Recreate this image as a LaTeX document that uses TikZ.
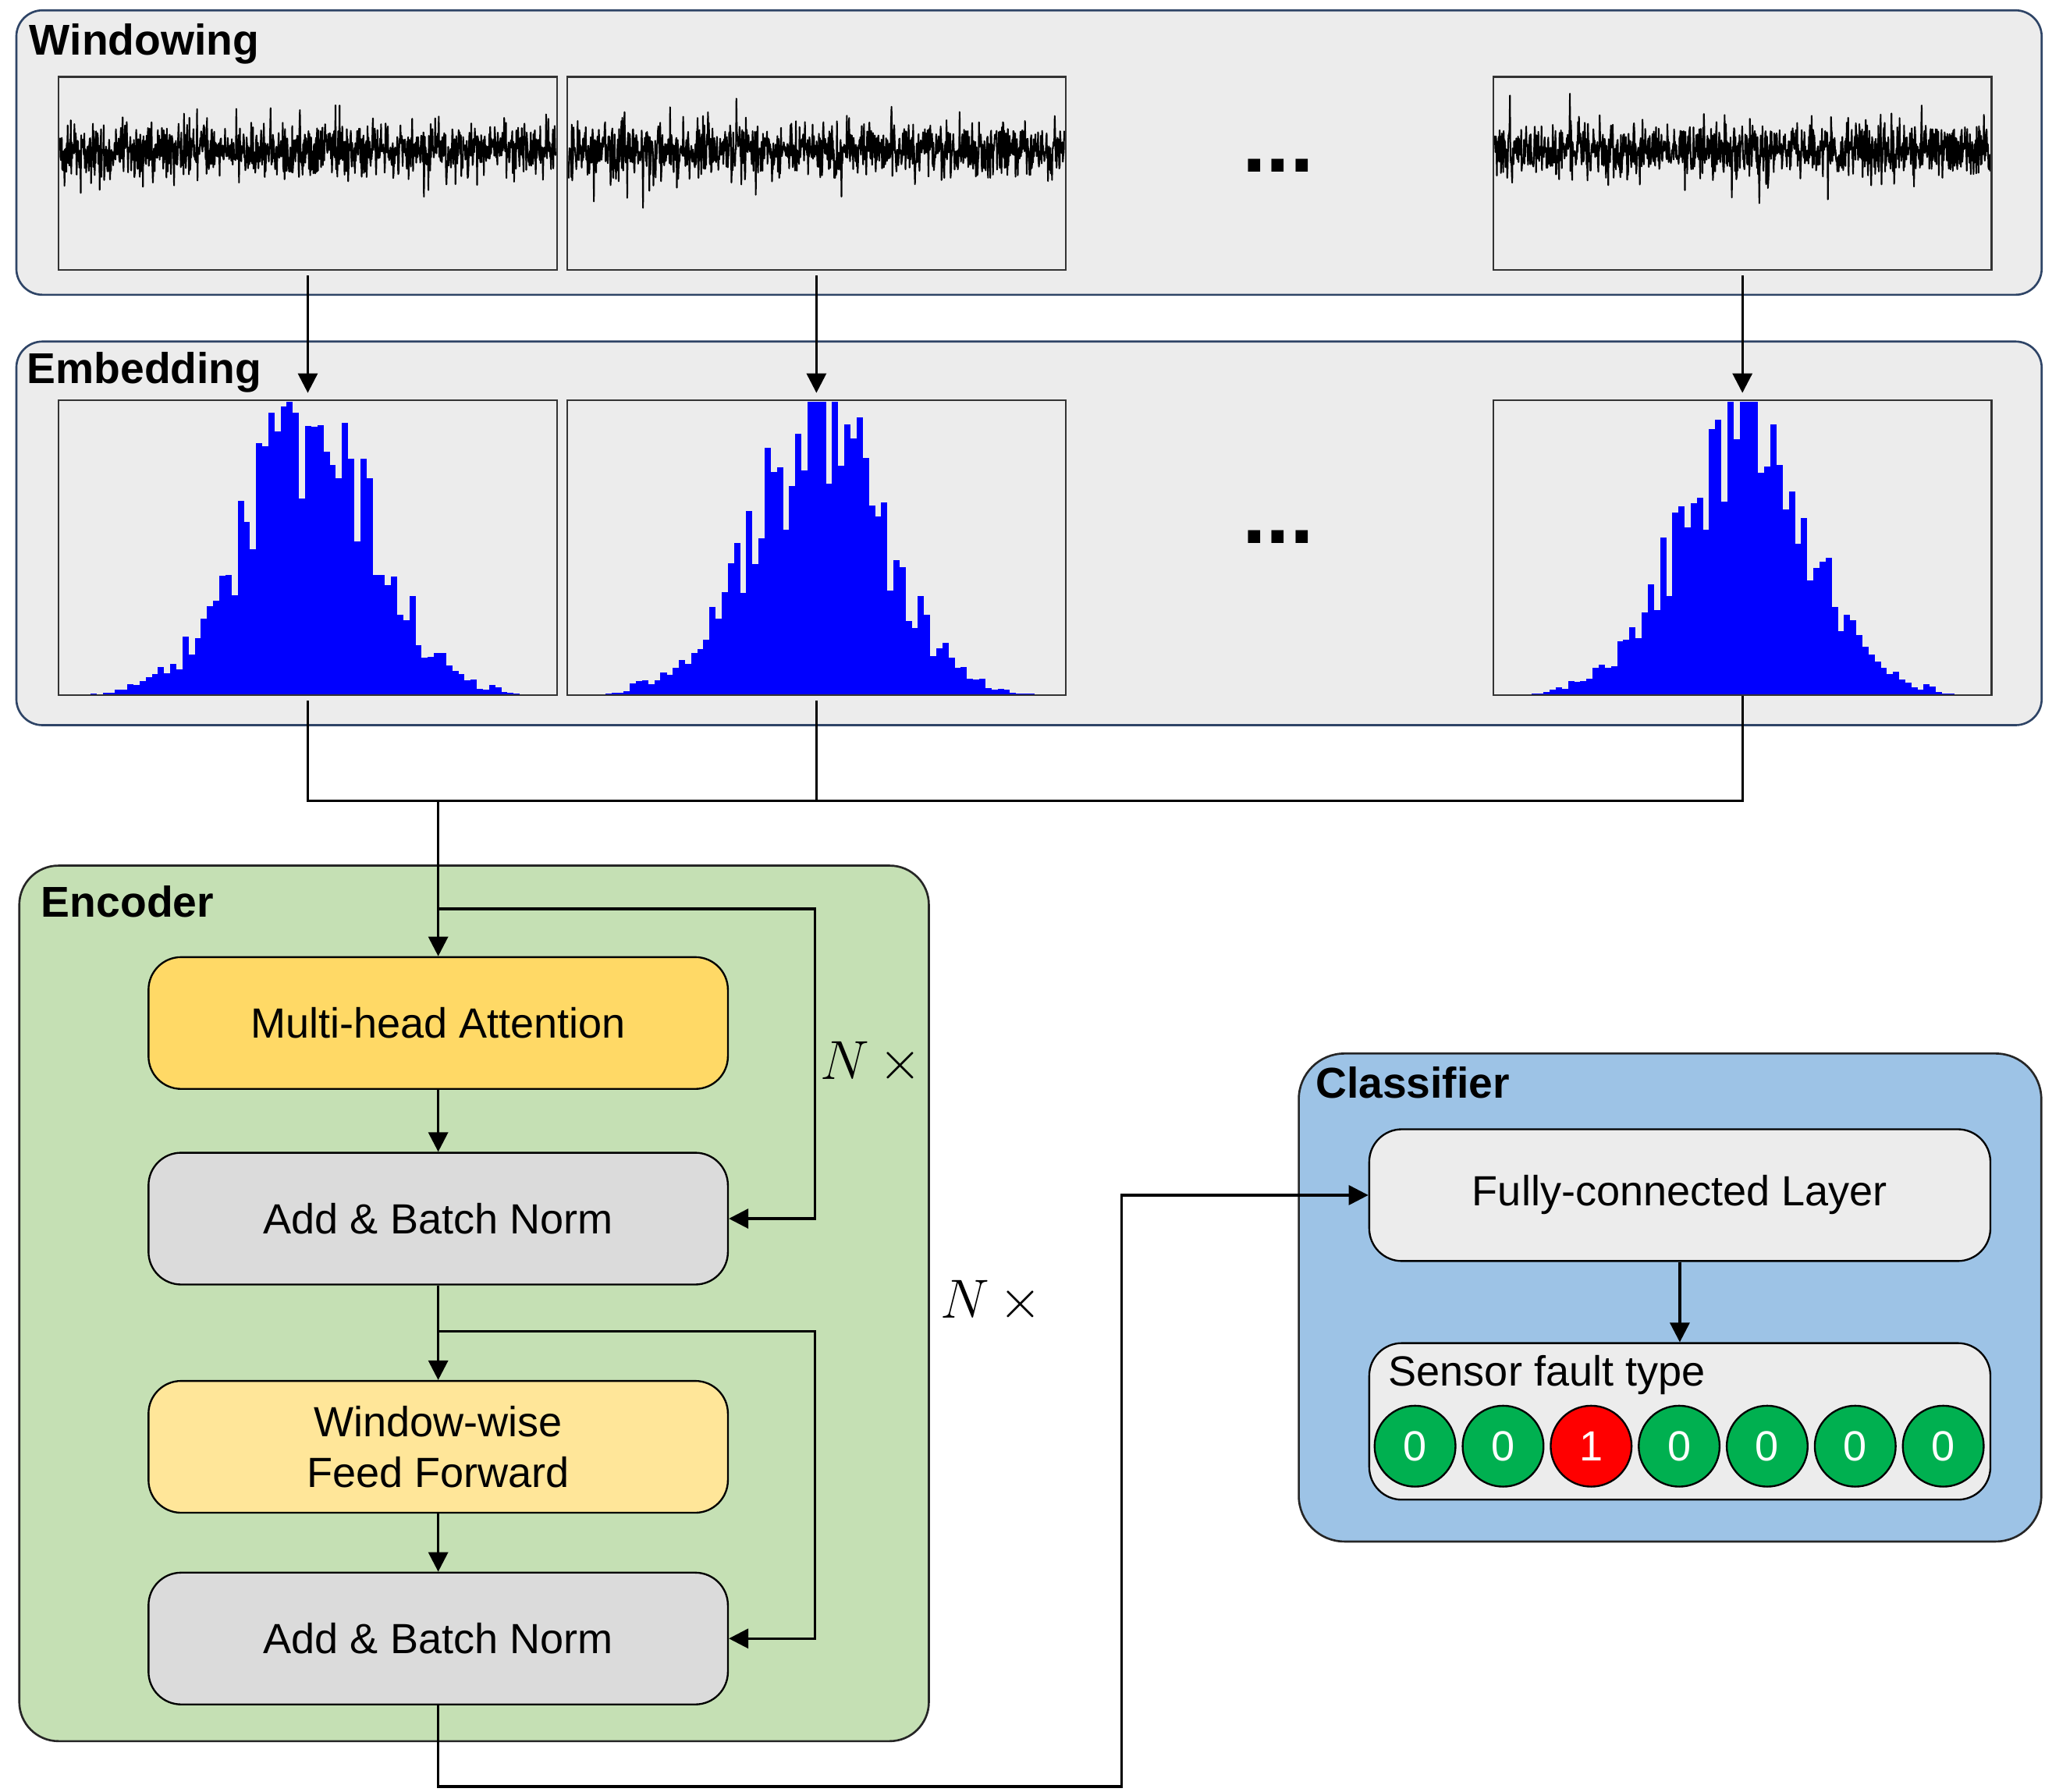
\documentclass[tikz,border=0pt]{standalone}
\usepackage{fontspec}
\setmainfont{Liberation Sans}
\usetikzlibrary{arrows.meta,positioning}

\definecolor{panelgray}{HTML}{ECECEC}
\definecolor{panelline}{HTML}{2E4466}
\definecolor{encgreen}{HTML}{C5E0B4}
\definecolor{clsblue}{HTML}{9DC3E6}
\definecolor{mhacol}{HTML}{FFD966}
\definecolor{ffcol}{HTML}{FFE699}
\definecolor{normgray}{HTML}{DBDBDB}
\definecolor{okgreen}{HTML}{00B050}
\definecolor{faultred}{HTML}{FF0000}
\definecolor{histblue}{HTML}{0000FF}

\begin{document}
\begin{tikzpicture}[x=0.01cm, y=-0.01cm,
    font=\fontsize{9.2}{11}\selectfont,
    panel/.style={draw=panelline, fill=panelgray, line width=0.45pt, rounded corners=0.2cm},
    plotbox/.style={draw=black!80, line width=0.4pt, minimum width=3.82cm, inner sep=0pt},
    title/.style={anchor=base west, inner sep=0pt, font=\fontsize{9.4}{11}\selectfont\bfseries},
    layer/.style={draw, rounded corners=0.25cm, line width=0.4pt, minimum width=4.44cm, minimum height=1.01cm, align=center},
    bit/.style={circle, draw, line width=0.4pt, fill=okgreen, text=white, minimum size=0.62cm, inner sep=0pt},
    sig/.style={line width=0.35pt, line join=round},
    line/.style={line width=0.55pt},
    arr/.style={line width=0.55pt, -{Triangle[length=0.15cm, width=0.15cm]}},
    dots/.style={font=\fontsize{18.8}{20}\selectfont\bfseries},
    times/.style={font=\fontsize{12.5}{14}\selectfont}]
    \useasboundingbox (0,0) rectangle (1568,1374);

    % panels
    \node[panel, minimum width=15.52cm, minimum height=2.18cm] at (789,117)(winp){};
    \node[panel, minimum width=15.52cm, minimum height=2.94cm] at (789,409)(embp){};
    \node[panel, draw=black!85, fill=encgreen, rounded corners=0.3cm, minimum width=6.97cm, minimum height=6.71cm] at (363.5,999.5)(encp){};
    \node[panel, draw=black!85, fill=clsblue, rounded corners=0.35cm, minimum width=5.69cm, minimum height=3.74cm] at (1280.5,995)(clsp){};

    \node[title] at (22,42)(wint){Windowing};
    \node[title] at (20,294)(embt){Embedding};
    \node[title] at (31,703)(enct){Encoder};
    \node[title] at (1008,842)(clst){Classifier};

    % windows and histograms
    \foreach \bx/\nm in {45/1, 435/2, 1145/3} {
        \pgfmathsetseed{\nm*17}
        \foreach \i in {0,...,74} {
            \pgfmathsetmacro\hx{\bx+15+\i*4.7}
            \pgfmathsetmacro\g{exp(-((\i-37)/10.5)^2/2)}
            \pgfmathsetmacro\hh{max(0,min(225,200*\g*(1+0.3*rand)+3*(1+rand)*(\g>0.01)))}
            \fill[histblue] (\hx,533) rectangle ++(4.8,-\hh);
        }
        \pgfmathsetmacro\xa{\bx+1}
        \pgfmathsetmacro\xb{\bx+381}
        \draw[sig] plot[domain=\xa:\xb, samples=1100] (\x,{115+9.5*(rand+rand+rand)+26*rand*(rnd>0.9)});
        \node[plotbox, minimum height=1.48cm] at (\bx+191,133)(win\nm){};
        \node[plotbox, minimum height=2.26cm] at (\bx+191,420)(emb\nm){};
    }
    \node[dots] at (980,127)(wdots){...};
    \node[dots] at (980,412)(edots){...};

    % encoder
    \node[layer, fill=mhacol] at (336,784.5)(mha){Multi-head Attention};
    \node[layer, fill=normgray] at (336,934.5)(abn1){Add \& Batch Norm};
    \node[layer, fill=ffcol] at (336,1109.5)(ff){Window-wise\\Feed Forward};
    \node[layer, fill=normgray] at (336,1256.5)(abn2){Add \& Batch Norm};
    \node[times] at (668,815)(rep1){$N\,\times$};
    \node[times] at (760,998)(rep2){$N\,\times$};

    % classifier
    \node[layer, fill=panelgray, minimum width=4.76cm] at (1288,916.5)(fc){Fully-connected Layer};
    \node[layer, fill=panelgray, minimum width=4.76cm, minimum height=1.2cm] at (1288,1090)(out){};
    \node[anchor=base west, inner sep=0pt] at (1064,1063)(outt){Sensor fault type};
    \foreach \i/\v/\c in {1/0/okgreen, 2/0/okgreen, 3/1/faultred, 4/0/okgreen, 5/0/okgreen, 6/0/okgreen, 7/0/okgreen}
        \node[bit, fill=\c] at ({1017.5+67.5*\i},1109)(b\i){\v};

    % connectors
    \coordinate (bus) at (336,614);
    \coordinate (res1) at (336,697);
    \coordinate (loop1) at (625,697);
    \coordinate (res2) at (336,1021);
    \coordinate (loop2) at (625,1021);
    \coordinate (turn) at (860,1370);

    \path[arr]
    (win1)edge[shorten <=1pt, shorten >=1.4pt](emb1)
    (win2)edge[shorten <=1pt, shorten >=1.4pt](emb2)
    (win3)edge[shorten <=1pt, shorten >=1.4pt](emb3)
    (mha)edge(abn1)
    (abn1)edge(ff)
    (ff)edge(abn2)
    (fc)edge(out)
    ;
    \draw[line, shorten <=1pt] (emb1.south) -- (emb1.south |- bus) -- (emb3.south |- bus) -- (emb3.south);
    \draw[line, shorten <=1pt] (emb2.south) -- (emb2.south |- bus);
    \draw[arr] (bus) -- (mha.north);
    \draw[arr] (res1) -- (loop1) |- (abn1.east);
    \draw[arr] (res2) -- (loop2) |- (abn2.east);
    \draw[arr] (abn2.south) |- (turn) |- (fc.west);
\end{tikzpicture}
\end{document}
